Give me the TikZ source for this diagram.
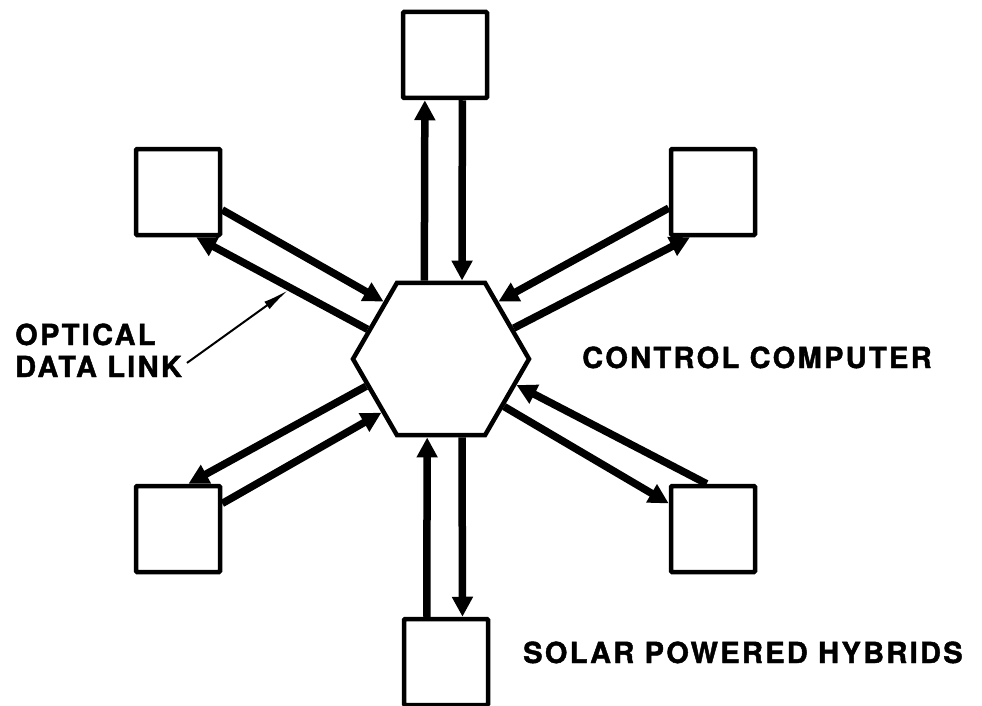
\documentclass[tikz,border=0pt]{standalone}
\usepackage{fontspec}
\setmainfont{TeX Gyre Heros}[LetterSpace=8, BoldFeatures={FakeBold=1.5}]
\usetikzlibrary{arrows.meta,shapes.geometric}

\begin{document}
\begin{tikzpicture}[x=1pt, y=-1pt,
    hyb/.style={draw, line width=4.5pt, minimum width=84pt, minimum height=86pt, rounded corners=1pt},
    link/.style={line width=7.5pt, -{Triangle[length=20pt, width=20pt]}},
    leader/.style={line width=2pt, -{Latex[length=26pt, width=9pt]}, shorten <=6pt, shorten >=3.5pt},
    lbl/.style={anchor=base west, inner sep=0pt, font=\fontsize{29pt}{32pt}\selectfont\bfseries}]
      \useasboundingbox (0,0) rectangle (982,706);
      \node[draw, line width=4.5pt, regular polygon, regular polygon sides=6, minimum size=176pt, inner sep=0pt] (hex) at (441,359) {};
      \node[hyb] (t) at (445,55) {};
      \node[hyb] (tl) at (178,192) {};
      \node[hyb] (tr) at (713,192) {};
      \node[hyb] (bl) at (178,529) {};
      \node[hyb] (br) at (713,529) {};
      \node[hyb] (b) at (446,662) {};
      \node[lbl] (optical) at (15,345) {OPTICAL};
      \node[lbl] (datalink) at (15,377) {DATA LINK};
      \node[lbl] (ccomp) at (582,368) {CONTROL COMPUTER};
      \node[lbl] (solar) at (523,663) {SOLAR POWERED HYBRIDS};
      % links, one pair per hybrid
      \draw[link] (hex.102) -- (t.-114); \draw[link] (t.-69) -- (hex.75);
      \draw[link] (tl.-22) -- (hex.135); \draw[link] (hex.158) -- coordinate[pos=0.447] (odl) (tl.-68);
      \draw[link] (tr.200) -- (hex.45); \draw[link] (hex.23) -- (tr.243);
      \draw[link] (hex.200) -- (bl.77); \draw[link] (bl.30) -- (hex.222);
      \draw[link] (br.98) -- (hex.-19); \draw[link] (hex.-37) -- (br.150);
      \draw[link] (b.113) -- (hex.-100); \draw[link] (hex.-75) -- (b.70);
      \draw[leader] (datalink.east) -- (odl);
    \end{tikzpicture}
\end{document}
